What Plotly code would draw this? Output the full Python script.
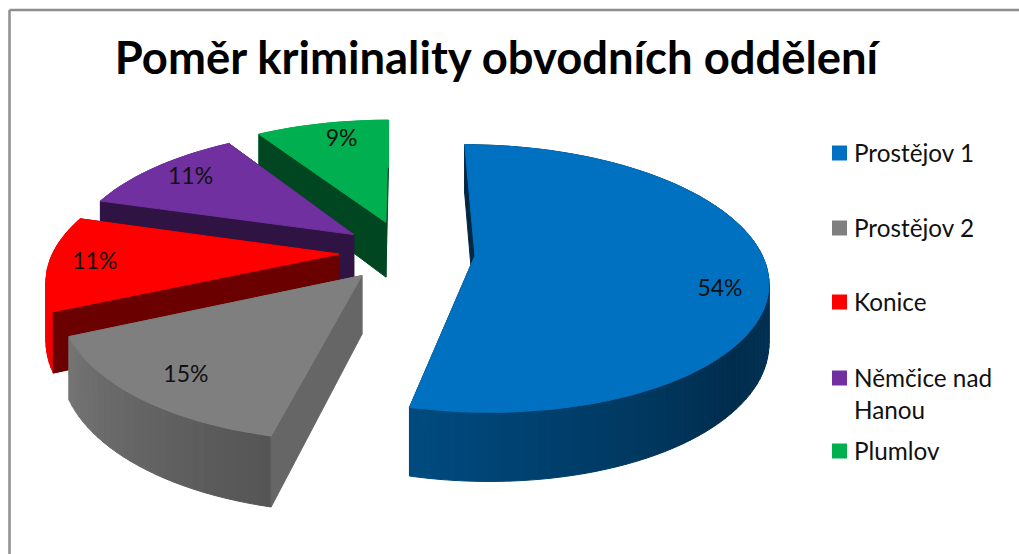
"""Exploded 3D-look pie: crime share of the police districts."""

from __future__ import annotations

import numpy as np
import plotly.graph_objects as go

TITLE = "Poměr kriminality obvodních oddělení"
CATEGORIES = ["Prostějov 1", "Prostějov 2", "Konice", "Němčice nad<br>Hanou", "Plumlov"]
# shares, the labels show them rounded
SHARES = [53.7, 14.51, 11.4, 11.4, 8.99]
COLORS = ["#0070C0", "#7F7F7F", "#FF0000", "#7030A0", "#00B050"]
CUT_SHADE = [0.35, 0.80, 0.42, 0.42, 0.40]

FONT = "Lato"
CX, CY = 405.0, 252.0
RADIUS = 286.0
TILT = 0.45
PERSPECTIVE = 0.17
PULLS = [0.245, 0.23, 0.23, 0.23, 0.25]
DEPTH = 57.0
LABEL_RADIUS = [0.83, 0.66, 0.84, 0.80, 0.80]
LABEL_DX = [3, -36, -1, -2, 8]
LABEL_DY = [22, 24, 2, -1, -1]
KEY_ROWS = [153, 228, 302, 378, 451]


def project(wx, wy, drop=0.0):
    s = 1.0 / (1.0 - PERSPECTIVE * np.asarray(wy))
    return CX + RADIUS * np.asarray(wx) * s, CY + RADIUS * TILT * np.asarray(wy) * s + drop * s


def shade(hex_color, k):
    rgb = [int(hex_color[i:i + 2], 16) for i in (1, 3, 5)]
    return "rgb({},{},{})".format(*[int(round(c * k)) for c in rgb])


def arc_shade(deg):
    return float(np.interp(deg, [90, 130, 194, 248, 270], [0.47, 0.40, 0.67, 0.93, 1.0]))


def polygon(x, y, color):
    return go.Scatter(
        x=list(x) + [x[0]],
        y=list(y) + [y[0]],
        mode="lines",
        fill="toself",
        fillcolor=color,
        line=dict(color=color, width=1),
        hoverinfo="skip",
        showlegend=False,
    )


def cut_wall(ox, oy, edge_x, edge_y, color):
    x0, y0 = project([ox, edge_x], [oy, edge_y])
    x1, y1 = project([edge_x, ox], [edge_y, oy], DEPTH)
    return polygon(list(x0) + list(x1), list(y0) + list(y1), color)


fig = go.Figure()

edges = np.cumsum([0] + SHARES) * 3.6
label_x, label_y = [], []

# painter's order: back slices first, blue last
for i in reversed(range(len(SHARES))):
    start, end = edges[i], edges[i + 1]
    mid = np.radians((start + end) / 2)
    ox, oy = PULLS[i] * np.sin(mid), -PULLS[i] * np.cos(mid)
    deg = np.append(np.arange(start, end, 2.0), end)
    rad = np.radians(deg)
    wx, wy = ox + np.sin(rad), oy - np.cos(rad)
    cut_color = shade(COLORS[i], CUT_SHADE[i])

    fig.add_trace(cut_wall(ox, oy, wx[-1], wy[-1], cut_color))

    for j in range(len(deg) - 1):
        pair_x, pair_y = wx[j:j + 2], wy[j:j + 2]
        x0, y0 = project(pair_x, pair_y)
        x1, y1 = project(pair_x[::-1], pair_y[::-1], DEPTH)
        color = shade(COLORS[i], arc_shade((deg[j] + deg[j + 1]) / 2))
        fig.add_trace(polygon(list(x0) + list(x1), list(y0) + list(y1), color))

    fig.add_trace(cut_wall(ox, oy, wx[0], wy[0], cut_color))

    tx, ty = project(np.append(wx, ox), np.append(wy, oy))
    fig.add_trace(polygon(tx, ty, COLORS[i]))

    lx, ly = project(ox + LABEL_RADIUS[i] * np.sin(mid), oy - LABEL_RADIUS[i] * np.cos(mid))
    label_x.append(float(lx) + LABEL_DX[i])
    label_y.append(float(ly) + LABEL_DY[i])

fig.add_trace(
    go.Scatter(
        x=label_x,
        y=label_y,
        mode="text",
        text=[f"{v:.0f}%" for v in reversed(SHARES)],
        textposition="middle center",
        textfont=dict(family=FONT, size=23, color="#111111"),
        hoverinfo="skip",
        showlegend=False,
    )
)

# key: swatches sit closer to the text than a plotly legend allows
fig.add_trace(
    go.Scatter(
        x=[839.5] * len(CATEGORIES),
        y=KEY_ROWS,
        mode="markers",
        marker=dict(symbol="square", size=15, color=COLORS),
        hoverinfo="skip",
        showlegend=False,
    )
)
for name, row in zip(CATEGORIES, KEY_ROWS):
    fig.add_annotation(
        x=852.5,
        y=row - 16,
        text=name,
        showarrow=False,
        xanchor="left",
        yanchor="top",
        align="left",
        borderpad=0,
        font=dict(family=FONT, size=24.3, color="#111111"),
    )

fig.update_layout(
    width=1019,
    height=554,
    margin=dict(l=0, r=0, t=0, b=0),
    paper_bgcolor="white",
    plot_bgcolor="white",
    showlegend=False,
    title=dict(
        text=TITLE,
        font=dict(family=FONT, size=45.4, color="#000000", weight="bold"),
        x=496.5 / 1019,
        xanchor="center",
        y=1 - 58 / 554,
        yanchor="middle",
    ),
    xaxis=dict(range=[0, 1019], visible=False, fixedrange=True),
    yaxis=dict(range=[554, 0], visible=False, fixedrange=True),
)

# chart frame: only the top and left edges fall inside the crop
for x0, y0, x1, y1 in ((9.5, 10, 1019, 10), (9.5, 10, 9.5, 554)):
    fig.add_shape(type="line", x0=x0, y0=y0, x1=x1, y1=y1, line=dict(color="#8E8E8E", width=2.5))

fig.write_html(
    "out.html",
    config={"displayModeBar": False},
    post_script="document.body.style.margin='0';document.body.style.overflow='hidden';",
)
